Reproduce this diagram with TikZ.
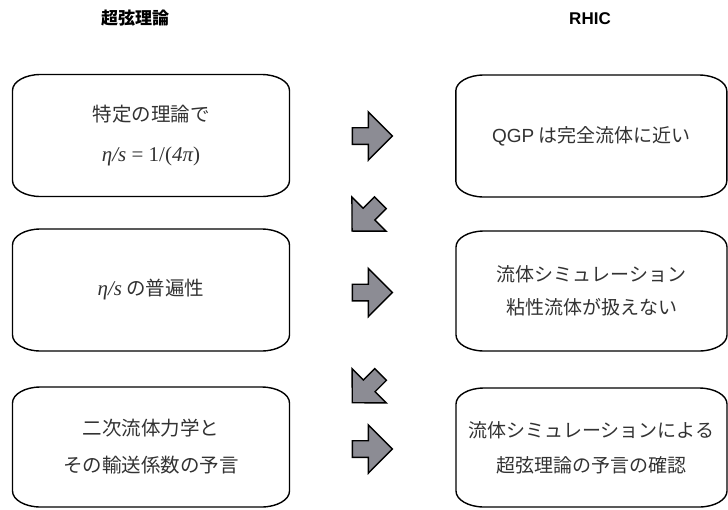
\documentclass[tikz,border=0pt]{standalone}
\usepackage{fontspec}
\setmainfont{Liberation Sans}
\newfontfamily\jp{Noto Sans CJK JP}
\newfontfamily\tms{Liberation Serif}
\definecolor{arrowgray}{RGB}{140,140,148}
\definecolor{txt}{RGB}{50,50,50}
\begin{document}
\begin{tikzpicture}[x=1pt,y=1pt,
  box/.style={minimum width=277pt, minimum height=122pt, inner sep=0pt, outer sep=0pt,
    align=center, text=txt},
  rbox/.style={box, minimum width=271pt},
  boxline/.style={draw=black, line width=1.4pt},
  head/.style={font=\bfseries\fontsize{17}{19}\selectfont, inner sep=0pt},
  blockarrow/.pic={\draw[line width=1.4pt, fill=arrowgray, line join=miter]
     (-20,8.3) -- (-4,8.3) -- (-4,24.2) -- (20,0) -- (-4,-24.2) -- (-4,-8.3) -- (-20,-8.3) -- cycle;}
]
\useasboundingbox (0,0) rectangle (728,-509);

% headers
\node[head] (h1) at (135,-18) {\jp 超弦理論};
\node[head] (h2) at (590,-19) {RHIC};

% left boxes
\node[box, font=\jp\fontsize{19.5}{40}\selectfont] (L1) at (151,-135.5)
  {特定の理論で\\{\tms\fontsize{21}{21}\selectfont{\itshape η/s} = 1/({\itshape 4π})}};
\node[box, font=\jp\fontsize{19.5}{36}\selectfont] (L2) at (151,-290)
  {{\tms\fontsize{21}{21}\selectfont\itshape η/s} の普遍性};
\node[box, minimum height=120pt, font=\jp\fontsize{19.5}{37}\selectfont] (L3) at (151,-447)
  {二次流体力学と\\その輸送係数の予言};

% right boxes
\node[rbox, font=\jp\fontsize{19}{36}\selectfont] (R1) at (591.3,-136)
  {{\fontspec{Liberation Sans}QGP} は完全流体に近い};
\node[rbox, minimum height=120pt, font=\jp\fontsize{19}{33}\selectfont] (R2) at (591.5,-291)
  {流体シミュレーション\\粘性流体が扱えない};
\node[rbox, minimum height=119pt, font=\jp\fontsize{19}{35}\selectfont] (R3) at (591.5,-447.5)
  {流体シミュレーションによる\\超弦理論の予言の確認};

% rounded borders with elliptical corners
\foreach \n in {L1,L2,L3,R1,R2,R3}{
  \draw[boxline] ([xshift=28pt]\n.north west) -- ([xshift=-28pt]\n.north east)
    arc[start angle=90,end angle=0,x radius=28pt,y radius=16pt]
    -- ([yshift=16pt]\n.south east)
    arc[start angle=0,end angle=-90,x radius=28pt,y radius=16pt]
    -- ([xshift=28pt]\n.south west)
    arc[start angle=270,end angle=180,x radius=28pt,y radius=16pt]
    -- ([yshift=-16pt]\n.north west)
    arc[start angle=180,end angle=90,x radius=28pt,y radius=16pt] -- cycle;
}

% block arrows
\pic at (372.3,-136) {blockarrow};
\pic at (372.3,-292.5) {blockarrow};
\pic at (372.3,-449) {blockarrow};
\pic[rotate=225] at (366.2,-216.9) {blockarrow};
\pic[rotate=225] at (366.4,-388.6) {blockarrow};
\end{tikzpicture}
\end{document}
